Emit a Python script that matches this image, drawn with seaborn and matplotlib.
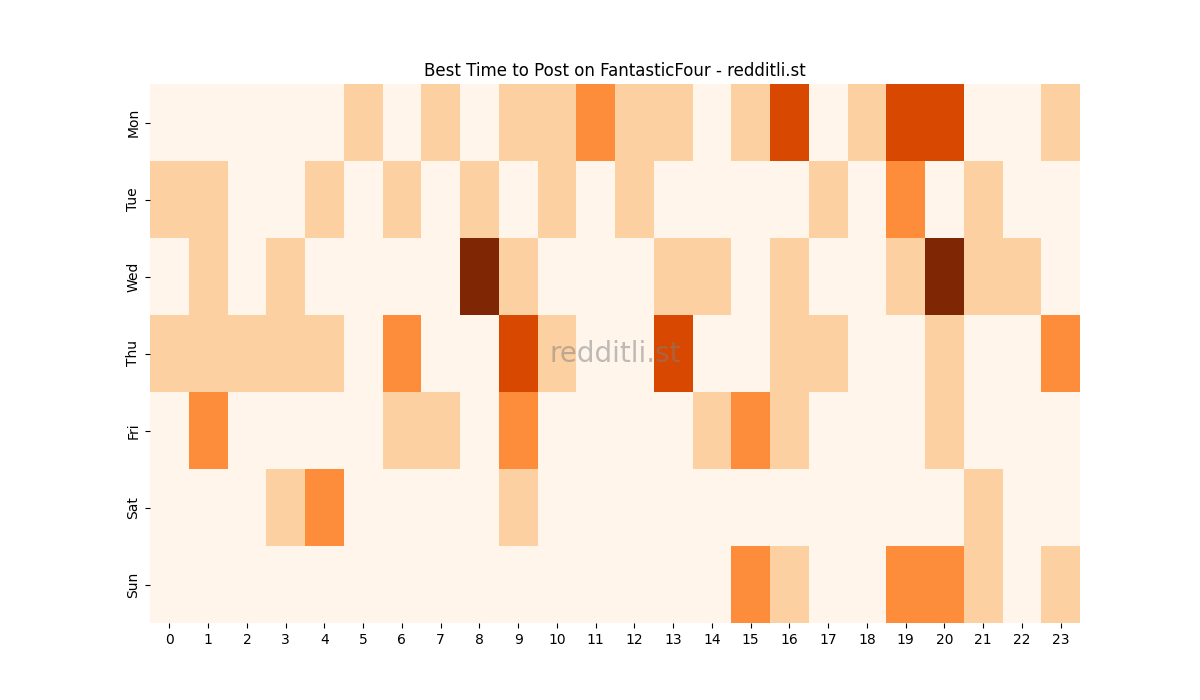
import numpy as np
import pandas as pd
import matplotlib
matplotlib.use("Agg")
import matplotlib.pyplot as plt
import seaborn as sns

days = ["Mon", "Tue", "Wed", "Thu", "Fri", "Sat", "Sun"]
hours = list(range(24))

mon = [0, 0, 0, 0, 0, 1, 0, 1, 0, 1, 1, 2, 1, 1, 0, 1, 3, 0, 1, 3, 3, 0, 0, 1]
tue = [1, 1, 0, 0, 1, 0, 1, 0, 1, 0, 1, 0, 1, 0, 0, 0, 0, 1, 0, 2, 0, 1, 0, 0]
wed = [0, 1, 0, 1, 0, 0, 0, 0, 4, 1, 0, 0, 0, 1, 1, 0, 1, 0, 0, 1, 4, 1, 1, 0]
thu = [1, 1, 1, 1, 1, 0, 2, 0, 0, 3, 1, 0, 0, 3, 0, 0, 1, 1, 0, 0, 1, 0, 0, 2]
fri = [0, 2, 0, 0, 0, 0, 1, 1, 0, 2, 0, 0, 0, 0, 1, 2, 1, 0, 0, 0, 1, 0, 0, 0]
sat = [0, 0, 0, 1, 2, 0, 0, 0, 0, 1, 0, 0, 0, 0, 0, 0, 0, 0, 0, 0, 0, 1, 0, 0]
sun = [0, 0, 0, 0, 0, 0, 0, 0, 0, 0, 0, 0, 0, 0, 0, 2, 1, 0, 0, 2, 2, 1, 0, 1]

df = pd.DataFrame([mon, tue, wed, thu, fri, sat, sun], index=days, columns=hours)

fig, ax = plt.subplots(figsize=(12, 7), dpi=100)
sns.heatmap(df, cmap="Oranges", vmin=0, vmax=4, cbar=False, ax=ax)
ax.set_title("Best Time to Post on FantasticFour - redditli.st")
ax.set_xlabel("")
ax.set_ylabel("")
ax.tick_params(axis="x", rotation=0)
ax.text(0.5, 0.5, "redditli.st", transform=ax.transAxes, ha="center", va="center",
        fontsize=20, color="gray", alpha=0.5)
fig.savefig("out.png")
